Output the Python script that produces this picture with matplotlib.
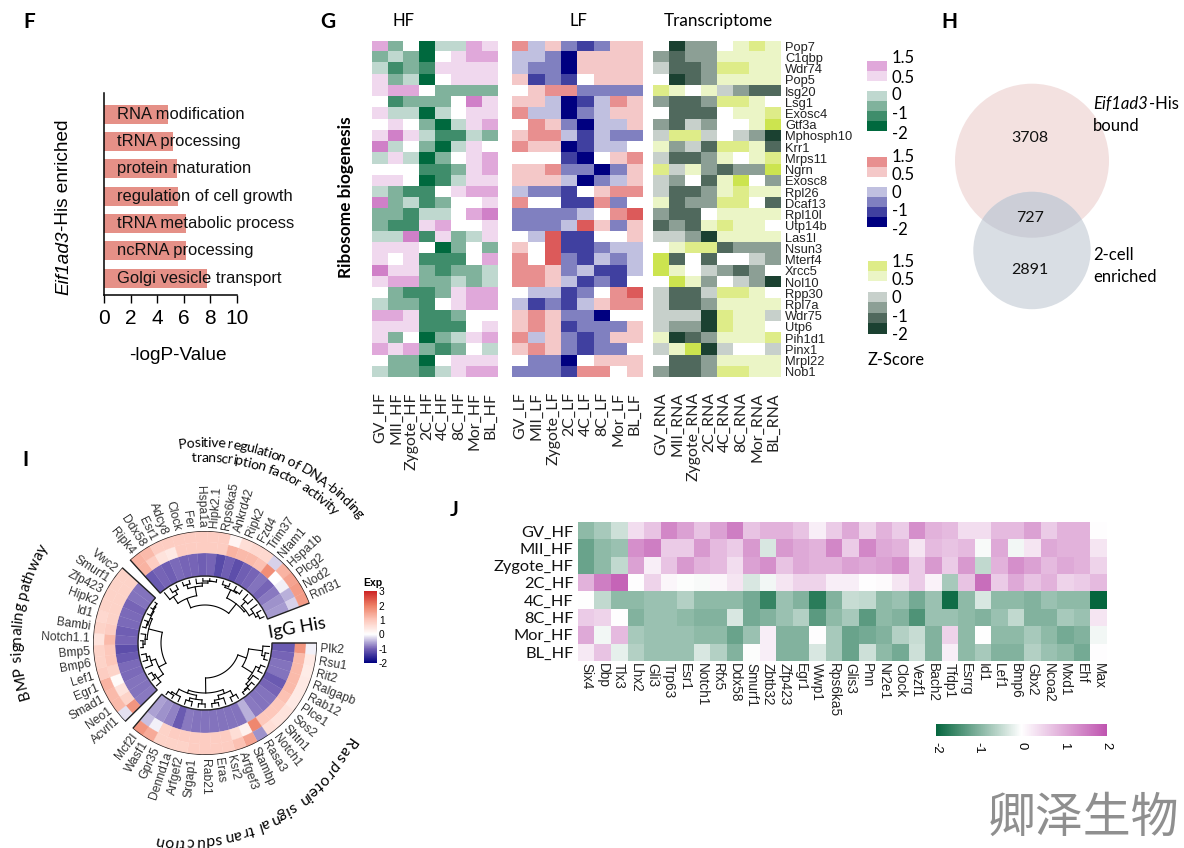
"""Multi-panel figure F-J: GO bars, ribosome heatmaps, venn, circular heatmap, TF heatmap."""
import numpy as np
import matplotlib
matplotlib.use("Agg")
import matplotlib.pyplot as plt
from matplotlib.colors import LinearSegmentedColormap, ListedColormap, BoundaryNorm
from matplotlib.font_manager import FontProperties, findfont, get_font
from matplotlib.ft2font import LoadFlags
from matplotlib.patches import Circle, Rectangle

W, H = 1184, 848
ARIAL = "Liberation Sans"
CALIBRI = "Lato"

# ---- panel F
go_terms = ["RNA modification", "tRNA processing", "protein maturation",
            "regulation of cell growth", "tRNA metabolic process",
            "ncRNA processing", "Golgi vesicle transport"]
go_logp = [4.8, 5.2, 5.5, 5.55, 6.15, 6.15, 7.75]

# ---- panel G (levels: +-1 ~ 0.5, +-2 ~ 1, +-3 ~ 1.5, -4 ~ -2)
ribo_genes = ["Pop7", "C1qbp", "Wdr74", "Pop5", "Isg20", "Lsg1", "Exosc4", "Gtf3a",
              "Mphosph10", "Krr1", "Mrps11", "Ngrn", "Exosc8", "Rpl26", "Dcaf13", "Rpl10l",
              "Utp14b", "Las1l", "Nsun3", "Mterf4", "Xrcc5", "Nol10", "Rpp30", "Rpl7a",
              "Wdr75", "Utp6", "Pih1d1", "Pinx1", "Mrpl22", "Nob1"]
stages = ["GV", "MII", "Zygote", "2C", "4C", "8C", "Mor", "BL"]
hf_levels = [
    [2, -2, 0, -4, -1, -1, 2, 1], [-2, -1, -2, -4, 0, 1, 2, 2], [-1, -3, -2, -3, 1, 1, 1, 1],
    [1, -2, -1, -4, 0, 1, 1, 1], [1, 2, 2, 0, -2, -2, -2, -2], [0, -3, -2, -2, -2, 0, 3, 1],
    [1, -1, -1, -4, -1, 0, 1, 1], [0, 1, 0, -2, -4, -1, 1, 2], [1, 3, 1, -1, -3, -3, -1, -2],
    [3, -1, 0, -2, -4, -1, 1, 0], [-1, 1, -1, -4, -2, 0, 1, 2], [0, 0, 0, -3, -3, -2, 1, 2],
    [1, 1, 0, -4, -3, -1, 1, 1], [-1, -2, -3, -3, 0, 1, 2, 2], [3, -2, -1, -3, -2, 0, 0, 1],
    [-2, -2, -3, -1, -1, 0, 2, 3], [-2, -3, -3, 1, 2, 0, 0, 1], [-1, -1, 3, -3, 1, -2, -1, 1],
    [1, 1, 1, 0, -4, -2, 0, -2], [1, 0, 1, -3, -3, -3, 0, 2], [3, 1, 1, -2, -3, -2, -2, -1],
    [1, 2, 2, -2, -2, -1, -2, -1], [0, -2, -3, -3, -2, 1, 2, 2], [-1, -2, -2, -3, 0, 1, 2, 2],
    [2, 2, 1, -3, -3, -2, 0, 0], [1, 1, 1, -3, -3, -3, 0, 1], [1, -2, 0, -4, -2, -1, 1, 2],
    [2, 1, 2, -2, -3, -2, 0, -1], [0, -2, -2, -4, 0, 1, 1, 1], [-1, -2, -2, -3, -1, 1, 2, 2]]
lf_levels = [
    [2, -1, 1, -2, -3, -2, 1, 1], [-1, -1, -2, -4, 1, 1, 1, 1], [-1, -2, -2, -4, 1, 1, 1, 1],
    [1, -3, -2, -3, 0, 1, 1, 1], [0, 1, 2, 2, -2, -2, -2, -2], [1, 1, -1, -4, -3, -1, 2, 1],
    [2, -1, -1, -4, -2, -1, 1, 1], [0, 2, 1, -2, -4, -1, -1, 1], [1, 2, 2, -1, -3, -1, -2, -2],
    [2, 1, 1, -4, -3, -1, -1, 0], [0, 0, 0, -3, -4, 0, 1, 2], [1, 1, 2, -2, -2, -4, -2, 1],
    [1, 1, 1, -1, -4, -2, -1, 1], [-1, -2, -2, -3, 0, 1, 2, 2], [2, 0, 0, -3, -3, 2, -2, 0],
    [-2, -2, -2, -2, -1, 0, 2, 3], [-2, -2, -2, -1, 3, 1, -2, 1], [0, -1, 3, -3, -3, 0, 0, 1],
    [1, 0, 3, -3, -3, -2, -1, -1], [2, 0, 3, -2, -3, -1, -2, -1], [2, 2, 1, -2, -1, -3, -3, -1],
    [2, 2, 1, -1, -3, -2, -3, 0], [0, -1, -1, -3, -2, 0, 2, 3], [-1, -3, -2, -3, -1, 1, 2, 2],
    [1, 2, 1, -2, -2, -4, 0, 0], [1, 2, 1, -3, -2, -2, -2, 1], [2, -1, 1, -2, -3, -2, 1, 1],
    [1, 2, 1, -2, -3, -2, -2, 0], [0, -2, -2, -4, 0, 1, 1, 1], [-2, -2, -2, -3, 2, 2, 0, 1]]
rna_levels = [
    [0, -4, -2, -2, 0, 1, 2, 1], [-2, -3, -2, -2, 1, 1, 1, 1], [-1, -3, -3, -2, 2, 2, 1, 1],
    [0, -4, -3, -2, 1, 1, 1, 1], [2, 1, 0, 1, -1, -2, -3, -3], [-2, -3, -3, -2, 2, 2, 1, 0],
    [0, -3, -3, -3, 0, 1, 1, 2], [-2, -3, -1, -2, 0, 0, 1, 3], [-1, 2, 2, -1, 0, -1, -2, -4],
    [1, -2, -1, -3, 2, 2, 1, -3], [-1, -3, -3, -2, 1, 0, 1, 2], [2, -1, 1, -2, -3, -2, -2, 3],
    [-1, -2, 0, -3, 1, 3, 0, -2], [-1, -3, -3, -2, 1, 2, 1, 1], [1, -3, -2, -2, 2, 2, 0, -3],
    [-2, -3, -3, 0, 1, 1, 1, 1], [-3, -2, -3, 1, 2, 1, 1, 0], [-1, -1, -2, -4, 1, 1, 1, 1],
    [0, 1, 2, 2, -3, -2, -2, -2], [3, -3, 0, -3, 0, 0, -1, -2], [3, 1, 0, -1, -2, -3, -2, 0],
    [0, 3, 1, -2, 0, -1, -2, -4], [-1, -3, -3, -1, 2, 2, 1, 0], [-1, -3, -3, -2, 1, 1, 1, 1],
    [-1, -1, -1, -4, 2, 1, 1, -1], [-1, -2, -2, -4, 2, 1, 1, 0], [1, -4, -3, -2, 1, 1, 1, 2],
    [-1, 1, 3, -4, -1, 0, 0, -1], [0, -3, -3, -2, 1, 1, 1, 1], [-2, -3, -3, -2, 2, 2, 1, 1]]
hf_colors = ["#00693e", "#3f8d6b", "#80b29c", "#bfd8cf", "#ffffff", "#f0d8ee", "#e0a8da", "#d080c8"]
lf_colors = ["#000080", "#4040a0", "#8080c0", "#c0c0e0", "#ffffff", "#f4c8c8", "#e88f8f", "#dc5a5a"]
rna_colors = ["#1b4131", "#50695d", "#8c9f95", "#c7d0cb", "#ffffff", "#ebf5c6", "#deec88", "#cce44f"]

# ---- panel H
venn_counts = [3708, 727, 2891]

# ---- panel I, clockwise from the east
ras_genes = ["Plk2", "Rsu1", "Rit2", "Ralgapb", "Rab12", "Plce1", "Sos2", "Shtn1", "Notch1", "Rasa3",
             "Stambp", "Arfgef3", "Ksr2", "Eras", "Rab21", "Srgap1", "Arfgef2", "Dennd1a", "Gpr35",
             "Wasf1", "Mcf2l"]
ras_outer = [-0.1, 0.4, 0.35, 0.4, 0.4, 0.4, 0.5, 0.5, 0.6, -0.7, 1.5, 1.1, 0.9, 0.9, 0.9, 0.9, 0.8, 0.8, 0.8, 1.4, 1.7]
ras_mid = [1.7, 1.2, 1.2, 1.2, 1.2, 1.1, 1.0, 1.0, 1.0, 1.9, 0.25, 0.6, 0.9, 0.9, 0.9, 0.9, 0.9, 0.9, 0.8, -0.1, -0.4]
ras_inner = [-1.1, -1.0, -0.9, -0.9, -1.1, -1.0, -0.9, -0.9, -0.85, -0.5, -0.9, -0.9, -0.9, -0.9, -0.9, -0.9, -0.85, -1.1, -0.8, -0.7, -0.6]
bmp_genes = ["Acvrl1", "Neo1", "Smad1", "Egr1", "Lef1", "Bmp6", "Bmp5", "Notch1.1", "Bambi", "Id1",
             "Hipk2", "Zfp423", "Smurf1", "Vwc2"]
bmp_outer = [-0.2, 1.2, 1.2, 1.3, 0.9, 0.8, 0.8, 0.5, 0.8, 0.7, 0.8, 0.8, 0.8, 0.8]
bmp_mid = [1.7, 0.8, 0.5, 0.1, 0.8, 1.0, 1.0, 1.2, 0.9, 0.8, 0.8, 0.8, 0.8, 0.8]
bmp_inner = [-0.85, -0.9, -0.9, -0.95, -0.95, -1.1, -1.2, -1.0, -1.05, -0.95, -0.95, -1.0, -0.9, -0.9]
tf_genes = ["Ripk4", "Ddx58", "Esr1", "Adcy8", "Clock", "Fer", "Hspa1a", "Hipk2.1", "Rps6ka5", "Ankrd42",
            "Ripk2", "Fzd4", "Trim37", "Nfam1", "Hspa1b", "Plcg2", "Nod2", "Rnf31"]
tf_outer = [1.3, 1.2, 0.9, 0.9, 0.9, 0.9, 0.9, 0.9, 0.9, 0.2, 0.6, 0.7, 0.7, -0.3, 1.3, 1.5, 1.6, 1.6]
tf_mid = [1.3, 0.9, 0.5, 0.4, 0.9, 0.9, 0.9, 0.9, 0.9, 1.3, 1.2, 1.2, 1.1, 1.8, 0.0, -0.1, -0.5, -0.3]
tf_inner = [-1.1, -1.0, -1.05, -0.95, -1.0, -1.0, -1.05, -1.0, -1.25, -1.05, -1.2, -1.05, -1.0, -0.9, -1.0, -0.85, -0.7, -0.65]
ras_tree = [35, [44, [58, 0, [61, 1, 2]], [56, [60, 3, 4], [58, 5, [61, 6, [62, 7, 8]]]]],
            [50, [54, [60, 9, 10], [58, 11, [61, 12, 13]]], [53, [57, [61, 14, 15], [60, 16, 17]], [59, 18, [61, 19, 20]]]]]
bmp_tree = [44, [52, [59, 0, [61, 1, 2]], [57, 3, [60, 4, 5]]],
            [58, [60, [62, 6, 7], 8], [60, [61, 9, 10], [61, 11, [62, 12, 13]]]]]
tf_tree = [38, [48, [56, 0, [60, 1, 2]], [57, [61, 3, 4], [60, 5, [62, 6, [62, 7, 8]]]]],
           [50, [59, [61, 9, 10], [60, 11, 12]], [52, [58, 13, 14], [57, 15, [60, 16, 17]]]]]

# ---- panel J
tf_cols = ["Six4", "Dbp", "Tlx3", "Lhx2", "Gli3", "Trp63", "Esr1", "Notch1", "Rfx5", "Ddx58", "Smurf1",
           "Zbtb32", "Zfp423", "Egr1", "Wwp1", "Rps6ka5", "Glis3", "Pnn", "Nr2e1", "Clock", "Vezf1", "Bach2",
           "Tfdp1", "Esrrg", "Id1", "Lef1", "Bmp6", "Gbx2", "Ncoa2", "Mxd1", "Ehf", "Max"]
tf_rows = ["GV_HF", "MII_HF", "Zygote_HF", "2C_HF", "4C_HF", "8C_HF", "Mor_HF", "BL_HF"]
gv_hf = [-0.9, -0.7, -0.4, 0.4, 0.7, 1.4, 1.1, 0.7, 1.1, 1.5, 0.7, 0.9, 0.9, 0.7, 0.2, 0.6,
         1.0, 0.5, 0.9, 0.6, 1.3, 0.9, 0.8, 0.4, 0.4, 0.8, 0.8, 1.1, 0.6, 0.9, 0.9, 0.02]
mii_hf = [-1.2, -0.9, -0.8, 1.3, 1.5, 0.6, 0.6, 1.2, 0.8, 0.6, 1.2, -0.3, 1.2, 1.0, 0.9, 1.4,
          0.6, 1.4, 1.0, 0.9, 0.3, 0.8, 0.7, 0.8, -0.05, 1.0, -0.1, 0.3, 1.0, 0.9, 0.9, 0.3]
zygote_hf = [-1.2, -0.9, -0.5, 1.1, 0.2, 0.7, 1.2, 0.9, 0.8, 0.4, 1.1, 1.3, 0.7, 1.0, 0.9, 0.9,
             1.1, 1.0, 1.1, 1.3, 0.6, 1.2, 0.6, 1.2, -0.5, 0.9, 1.3, 1.1, 0.8, 1.0, 0.9, 0.5]
c2_hf = [0.9, 1.5, 1.8, 0.02, 0.5, 0.1, -0.02, -0.05, 0.1, 0.3, -0.3, -0.1, 0.3, 0.5, 0.5, 0.2,
         0.2, 0.02, 0.05, 0.3, 0.6, 0.15, -0.7, 0.7, 1.7, 0.6, 1.0, 0.7, 0.9, 0.5, 0.6, 0.8]
c4_hf = [0.0, -0.5, -0.9, -0.9, -0.8, -0.8, -0.6, -0.9, -0.9, -0.9, -1.1, -1.6, -0.8, -1.0, -1.7, -1.0,
         -0.45, -0.5, -0.9, -0.8, -1.1, -0.8, -1.9, -0.9, -0.3, -0.9, -0.9, -1.0, -0.8, -0.9, -0.9, -2.0]
c8_hf = [0.6, 0.5, 0.02, -1.0, -0.8, -0.8, -0.9, -1.0, -1.0, -0.3, -1.1, -1.0, -0.8, -0.6, -1.3, -0.9,
         -0.7, -1.3, -0.9, -1.0, -1.4, -0.8, -0.8, -0.9, -1.0, -0.8, -0.5, -1.0, -1.0, -0.7, -0.8, 0.3]
mor_hf = [1.0, -0.1, 0.8, -0.7, -0.8, -0.8, -0.8, -0.9, -0.9, -1.2, -0.8, 0.2, -1.0, -1.0, 0.02, -0.7,
          -1.2, -1.1, -1.0, -0.6, -0.45, -1.0, 0.5, -0.9, 0.0, -0.9, -0.9, -0.7, -0.9, -1.1, -1.0, -0.1]
bl_hf = [0.25, 0.7, -0.2, -0.6, -0.8, -0.8, -0.8, -0.3, -0.6, -1.0, -0.03, 0.2, -1.0, -1.0, -0.3, -0.7,
         -1.2, -0.4, -0.9, -1.1, -0.4, -1.0, 0.2, -0.9, -0.7, -1.0, -1.0, -0.6, -0.8, -0.9, -1.1, 0.02]

plt.rcParams["font.family"] = [ARIAL, "DejaVu Sans"]
plt.rcParams["axes.unicode_minus"] = False
fig = plt.figure(figsize=(W / 100, H / 100), dpi=100)


def px_axes(x0, y0, x1, y1, **kw):
    """Axes from pixel box, y counted from the top like in the reference."""
    return fig.add_axes([x0 / W, 1 - y1 / H, (x1 - x0) / W, (y1 - y0) / H], **kw)


# overlay in pixel coordinates for free text
bg = px_axes(0, 0, W, H, zorder=10)
bg.set_xlim(0, W); bg.set_ylim(H, 0); bg.axis("off"); bg.patch.set_alpha(0)


def label(x, y, s, size=10, family=CALIBRI, **kw):
    kw.setdefault("ha", "center"); kw.setdefault("va", "center")
    return bg.text(x, y, s, fontsize=size, family=family, **kw)


for s, x, y in [("F", 29, 22), ("G", 328, 22), ("H", 949, 22), ("I", 25, 460), ("J", 454, 510)]:
    label(x, y, s, size=15, weight="bold")


def fig_f():
    ax = px_axes(104, 93, 237, 295)
    y = np.arange(len(go_terms))
    ax.barh(y, go_logp, height=0.7, color="#e59087")
    for yi, t in zip(y, go_terms):
        ax.text(0.97, yi, t, va="center", fontsize=11.9, color="#111111")
    ax.set_xlim(0, 10); ax.set_ylim(6.62, -0.78)
    ax.set_xticks(range(0, 11, 2)); ax.set_yticks([])
    ax.tick_params(axis="x", labelsize=15, width=1, length=6, pad=4)
    ax.patch.set_alpha(0)
    for sp in ["top", "right"]:
        ax.spines[sp].set_visible(False)
    for sp in ["left", "bottom"]:
        ax.spines[sp].set_linewidth(1.1)
    label(178, 356, "-logP-Value", size=13.7, family=ARIAL)
    label(64, 295, "Eif1ad3", size=13.7, family=ARIAL, style="italic", rotation=90, va="bottom")
    label(64, 231, "-His enriched", size=13.7, family=ARIAL, rotation=90, va="bottom")


def heat(levels, colors, box, suffix, right_labels=False):
    ax = px_axes(*box)
    cmap = ListedColormap(colors)
    norm = BoundaryNorm(np.arange(-4.5, 4.5), cmap.N)
    ax.imshow(np.array(levels), cmap=cmap, norm=norm, aspect="auto", interpolation="nearest")
    ax.set_xticks(range(8))
    ax.set_xticklabels([f"{s}_{suffix}" for s in stages], rotation=90, fontsize=11.4,
                       family=CALIBRI, color="#222222")
    ax.tick_params(length=0, axis="x", pad=10.5)
    if right_labels:
        ax.yaxis.tick_right()
        ax.set_yticks(range(len(ribo_genes)))
        ax.set_yticklabels(ribo_genes, fontsize=9.3, color="#222222")
        ax.tick_params(axis="y", length=0, pad=3)
    else:
        ax.set_yticks([])
    for sp in ax.spines.values():
        sp.set_visible(False)


def legend_stack(colors, x0, x1, tops, texts):
    for c, (y0, y1) in zip(colors, tops):
        bg.add_patch(Rectangle((x0, y0), x1 - x0, y1 - y0, color=c, lw=0))
    for (ty, s) in texts:
        label(892, ty, s, size=12, ha="left")


def fig_g():
    heat(hf_levels, hf_colors, (372.3, 40.5, 498.3, 377.5), "HF")
    heat(lf_levels, lf_colors, (512.3, 40.5, 643, 377.5), "LF")
    heat(rna_levels, rna_colors, (653.3, 40.5, 781, 377.5), "RNA", right_labels=True)
    label(403, 21, "HF", size=12); label(578, 21, "LF", size=12)
    label(718, 21, "Transcriptome", size=12.3)
    label(346, 197, "Ribosome biogenesis", size=12.4, weight="bold", rotation=90)
    legend_stack(hf_colors[6:4:-1] + hf_colors[3::-1], 867, 887,
                 [(61, 71), (71, 81), (91, 101), (101, 111), (111, 121), (121, 131)],
                 [(58, "1.5"), (78, "0.5"), (95, "0"), (114, "-1"), (134, "-2")])
    legend_stack(lf_colors[6:4:-1] + lf_colors[3::-1], 867, 887,
                 [(157, 167), (167, 177), (187, 197), (197, 207), (207, 217), (217, 227)],
                 [(157, "1.5"), (175, "0.5"), (193, "0"), (211, "-1"), (230, "-2")])
    legend_stack(rna_colors[6:4:-1] + rna_colors[3::-1], 868, 887,
                 [(261, 271), (271, 281), (292, 302), (302, 313), (313, 323), (323, 334)],
                 [(262, "1.5"), (280, "0.5"), (298, "0"), (317, "-1"), (335, "-2")])
    label(896, 360, "Z-Score", size=11.9)


def fig_h():
    big = Circle((1032, 160.7), 77, color="#f3e1e0", lw=0)
    small = Circle((1032, 250.5), 58.7, color="#d9dee4", lw=0)
    over = Circle((1032, 250.5), 58.7, color="#ccced7", lw=0)
    bg.add_patch(big); bg.add_patch(small); bg.add_patch(over)
    over.set_clip_path(big)
    for (x, y), n in zip([(1030, 138), (1030, 218), (1030, 270)], venn_counts):
        label(x, y, str(n), size=11.5, color="#111111")
    label(1093, 104, "Eif1ad3", size=12, style="italic", ha="left")
    label(1149, 104, "-His", size=12, ha="left")
    label(1093, 126, "bound", size=12, ha="left")
    label(1093, 255, "2-cell", size=12, ha="left")
    label(1093, 277, "enriched", size=12, ha="left")


CX, CY = 205, 643
TRACK_R = [67, 90, 101, 112]
exp_cmap = LinearSegmentedColormap.from_list(
    "exp", [(0, "#000080"), (0.2, "#7664b6"), (0.4, "#ffffff"), (0.6, "#fdc8bb"),
            (0.8, "#ee8066"), (1, "#cd2626")])


def draw_tree(ax, node, theta):
    """node is a leaf index or [radius, left, right]; returns (angle, radius)."""
    if not isinstance(node, list):
        return theta[node], 64.5
    r = node[0]
    t0, r0 = draw_tree(ax, node[1], theta)
    t1, r1 = draw_tree(ax, node[2], theta)
    ax.plot(np.linspace(t0, t1, 30), np.full(30, r), color="k", lw=0.8)
    ax.plot([t0, t0], [r, r0], color="k", lw=0.8)
    ax.plot([t1, t1], [r, r1], color="k", lw=0.8)
    return (t0 + t1) / 2, r


def sector(ax, start, genes, tracks, tree, step=6.2):
    theta = np.radians(start + step * (np.arange(len(genes)) + 0.5))
    w = np.radians(step)
    for i, vals in enumerate(tracks):
        colors = exp_cmap((np.array(vals) + 2) / 5)
        ax.bar(theta, TRACK_R[i + 1] - TRACK_R[i], width=w, bottom=TRACK_R[i],
               color=colors, edgecolor=colors, lw=0.2)
    mid = np.radians(start + step * len(genes) / 2)
    ax.bar(mid, TRACK_R[-1] - TRACK_R[0], width=w * len(genes), bottom=TRACK_R[0],
           fill=False, edgecolor="#222222", lw=1.0)
    draw_tree(ax, tree, theta)
    for g, t in zip(genes, np.degrees(theta)):
        x = CX + 115.5 * np.cos(np.radians(t)); y = CY + 115.5 * np.sin(np.radians(t))
        right = t < 90 or t > 270
        rot = -t if right else 180 - t
        label(x, y, g, size=8.7, family=ARIAL, color="#333333", rotation=rot,
              rotation_mode="anchor", ha="left" if right else "right")


def curved(text, mid_or_start, radius, size, centered=True, r_step=0.0, squeeze=1.0):
    """Characters along a circle around the ring centre, tops outward, clockwise reading."""
    font = get_font(findfont(FontProperties(family=CALIBRI)))
    font.set_size(size, 100)
    adv = [font.load_char(ord(ch), flags=LoadFlags.NO_HINTING).linearHoriAdvance / 65536 * squeeze
           for ch in text]
    total = sum(adv)
    start = mid_or_start - (np.degrees(total / radius) / 2 if centered else 0)
    s = 0.0
    for ch, c in zip(text, adv):
        ang = start + np.degrees((s + c / 2) / radius)
        s += c
        r = radius + r_step * (ang - start)
        a = np.radians(ang)
        bg.text(CX + r * np.cos(a), CY + r * np.sin(a), ch, fontsize=size, family=CALIBRI,
                rotation=270 - ang, rotation_mode="anchor", ha="center", va="baseline")


def fig_i():
    ax = px_axes(CX - 112, CY - 112, CX + 112, CY + 112, projection="polar")
    ax.set_theta_zero_location("E"); ax.set_theta_direction(-1)
    ax.set_ylim(0, 112); ax.axis("off")
    ax.patch.set_alpha(0)
    sector(ax, 0, ras_genes, [ras_inner, ras_mid, ras_outer], ras_tree)
    sector(ax, 135.5, bmp_genes, [bmp_inner, bmp_mid, bmp_outer], bmp_tree)
    sector(ax, 228, tf_genes, [tf_inner, tf_mid, tf_outer], tf_tree, step=6.17)
    label(297, 628, "IgG His", size=13, rotation=10)
    curved("Positive regulation of DNA-binding", 291.7, 196, 10.2, squeeze=0.92)
    curved("transcription factor activity", 290.5, 181, 10.2, squeeze=0.92)
    curved("BMP signaling pathway", 187, 184, 11.0)
    curved("Ras protein signal transduction", 33, 170, 11.3, centered=False, r_step=0.42)
    cax = px_axes(364, 590, 376.7, 665)
    sm = plt.cm.ScalarMappable(cmap=exp_cmap, norm=plt.Normalize(-2, 3))
    cb = fig.colorbar(sm, cax=cax)
    cb.set_ticks([-2, -1, 0, 1, 2, 3])
    cb.ax.set_ylim(-2.15, 3.1)
    cb.ax.tick_params(length=0, labelsize=7.3, pad=1.5)
    cb.outline.set_visible(False)
    label(372.7, 583, "Exp", size=7.5, weight="bold", family=ARIAL)


def fig_j():
    ax = px_axes(577.7, 522.3, 1106.7, 660.7)
    jcmap = LinearSegmentedColormap.from_list("pg", ["#05663e", "#ffffff", "#bf55b0"])
    data = np.array([gv_hf, mii_hf, zygote_hf, c2_hf, c4_hf, c8_hf, mor_hf, bl_hf])
    im = ax.imshow(data, cmap=jcmap, vmin=-2, vmax=2, aspect="auto", interpolation="nearest")
    ax.set_xticks(range(len(tf_cols))); ax.set_xticklabels(tf_cols, rotation=270, fontsize=9.8, color="#222222")
    ax.set_yticks(range(len(tf_rows))); ax.set_yticklabels(tf_rows, fontsize=11.8, family=CALIBRI, color="#111111")
    ax.tick_params(length=0, axis="x", pad=2)
    ax.tick_params(length=0, axis="y", pad=3)
    for sp in ax.spines.values():
        sp.set_visible(False)
    cax = px_axes(936, 724.3, 1106.7, 736)
    cb = fig.colorbar(im, cax=cax, orientation="horizontal")
    cb.set_ticks([-2, -1, 0, 1, 2])
    cb.ax.tick_params(length=0, labelsize=9.4, labelrotation=270, pad=4)
    cb.outline.set_visible(False)


fig_f(); fig_g(); fig_h(); fig_i(); fig_j()
bg.text(1084, 818, "卿泽生物", fontsize=34.5, family=["Noto Sans CJK SC", "DejaVu Sans"],
        color="#8f8f8f", ha="center", va="center")
fig.savefig("out.png", dpi=100)
